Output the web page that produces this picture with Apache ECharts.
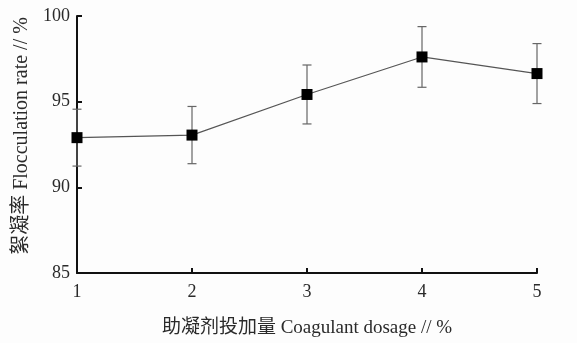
<!DOCTYPE html>
<html>
<head>
<meta charset="utf-8">
<script src="https://cdn.jsdelivr.net/npm/echarts@6/dist/echarts.min.js"></script>
<style>html,body{margin:0;padding:0;background:#fdfdfd;}#c{width:577px;height:343px;}</style>
</head>
<body>
<div id="c"></div>
<script>
const dosage = [1, 2, 3, 4, 5];
const flocRate = [92.9, 93.05, 95.42, 97.61, 96.64];
const errors = [1.66, 1.67, 1.72, 1.77, 1.75];
const yTicks = [85, 90, 95, 100];
const xName = '助凝剂投加量 Coagulant dosage // %';
const yName = '絮凝率 Flocculation rate // %';

const FONT = "'Liberation Serif', 'Noto Sans CJK SC', serif";
const TXT = '#2a2a2a';

const chart = echarts.init(document.getElementById('c'), null, {renderer: 'canvas'});
const lineData = dosage.map((d, i) => [d, flocRate[i]]);
const errData = dosage.map((d, i) => [d, flocRate[i] - errors[i], flocRate[i] + errors[i]]);

chart.setOption({
  backgroundColor: '#fdfdfd',
  animation: false,
  grid: {left: 77, right: 40, top: 16, bottom: 64, containLabel: false},
  xAxis: {
    type: 'value', min: 1, max: 5, interval: 1,
    name: xName, nameLocation: 'middle', nameGap: 46,
    nameTextStyle: {fontFamily: FONT, fontSize: 19, color: TXT, verticalAlign: 'top'},
    axisLine: {show: true, onZero: false, lineStyle: {color: '#111', width: 2}},
    axisTick: {show: true, inside: true, length: 5, lineStyle: {color: '#111', width: 2}},
    axisLabel: {fontFamily: FONT, fontSize: 18, color: TXT, margin: 10},
    splitLine: {show: false}
  },
  yAxis: {
    type: 'value', min: yTicks[0], max: yTicks[yTicks.length - 1], interval: 5,
    axisLine: {show: true, onZero: false, lineStyle: {color: '#111', width: 2}},
    axisTick: {show: true, inside: true, length: 5, lineStyle: {color: '#111', width: 2}},
    axisLabel: {fontFamily: FONT, fontSize: 18, color: TXT, margin: 7},
    splitLine: {show: false}
  },
  graphic: [{
    type: 'text', x: 22, y: 136, rotation: Math.PI / 2,
    style: {text: yName, font: "20px 'Liberation Serif', 'Noto Sans CJK SC', serif", fill: TXT, align: 'center', verticalAlign: 'middle'}
  }],
  series: [
    {
      type: 'custom',
      data: errData,
      z: 2,
      renderItem: function (params, api) {
        const x = api.value(0);
        const lo = api.coord([x, api.value(1)]);
        const hi = api.coord([x, api.value(2)]);
        const w = 4.5;
        const st = {stroke: '#666', lineWidth: 1.2};
        return {
          type: 'group',
          children: [
            {type: 'line', shape: {x1: lo[0], y1: lo[1], x2: hi[0], y2: hi[1]}, style: st},
            {type: 'line', shape: {x1: lo[0] - w, y1: lo[1], x2: lo[0] + w, y2: lo[1]}, style: st},
            {type: 'line', shape: {x1: hi[0] - w, y1: hi[1], x2: hi[0] + w, y2: hi[1]}, style: st}
          ]
        };
      }
    },
    {
      type: 'line',
      data: lineData,
      z: 3,
      symbol: 'rect', symbolSize: 11,
      itemStyle: {color: '#000'},
      lineStyle: {color: '#555', width: 1.2}
    }
  ]
});
</script>
</body>
</html>
